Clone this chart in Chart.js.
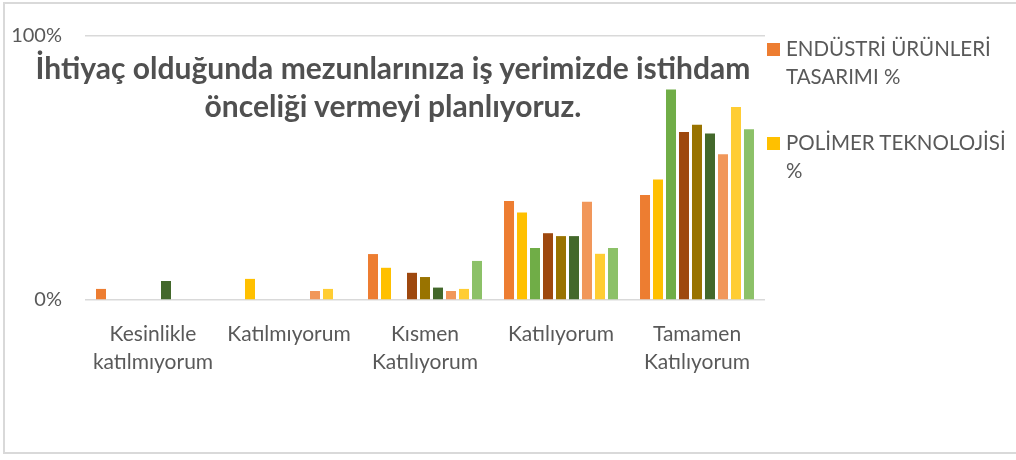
<!DOCTYPE html>
<html>
<head>
<meta charset="utf-8">
<script src="https://cdn.jsdelivr.net/npm/chart.js@4"></script>
<style>
  html, body { margin: 0; padding: 0; background: #fff; }
  #wrap { position: relative; width: 1016px; height: 460px; overflow: hidden; }
  #frame { position: absolute; left: 3px; top: 2px; width: 1030px; height: 452px; border: 2px solid #d9d9d9; box-sizing: border-box; }
  canvas { position: absolute; left: 0; top: 0; }
  #title { position: absolute; left: 0; width: 786px; top: 48px; text-align: center; font-family: Lato, sans-serif; font-weight: bold; font-size: 30px; line-height: 38px; color: #505050; }
  .leg { position: absolute; left: 767px; font-family: Lato, sans-serif; font-size: 20.5px; line-height: 28px; color: #595959; }
  .leg .box { position: absolute; left: 0; width: 13px; height: 13px; }
  .leg .txt { position: absolute; left: 19px; white-space: nowrap; }
</style>
</head>
<body>
<div id="wrap">
  <div id="frame"></div>
  <canvas id="c" width="1016" height="460"></canvas>
  <div id="title"></div>
  <div id="legend"></div>
</div>
<script>
const chartTitle = ["İhtiyaç olduğunda mezunlarınıza iş yerimizde istihdam", "önceliği vermeyi planlıyoruz."];
const categories = [["Kesinlikle", "katılmıyorum"], "Katılmıyorum", ["Kısmen", "Katılıyorum"], "Katılıyorum", ["Tamamen", "Katılıyorum"]];
const yTickLabels = { 0: "0%", 100: "100%" };

const seriesNames = ["ENDÜSTRİ ÜRÜNLERİ TASARIMI %", "POLİMER TEKNOLOJİSİ %", "Seri 3", "Seri 4", "Seri 5", "Seri 6", "Seri 7", "Seri 8", "Seri 9"];
const legendLines = [["ENDÜSTRİ ÜRÜNLERİ", "TASARIMI %"], ["POLİMER TEKNOLOJİSİ", "%"]];

const s1 = [4.2, 0, 17.4, 37.5, 39.8];
const s2 = [0, 8.0, 12.2, 33.1, 45.6];
const s3 = [0, 0, 0, 19.7, 79.7];
const s4 = [0, 0, 10.3, 25.3, 63.6];
const s5 = [0, 0, 8.7, 24.2, 66.4];
const s6 = [7.2, 0, 4.7, 24.2, 63.1];
const s7 = [0, 3.4, 3.4, 37.2, 55.2];
const s8 = [0, 4.2, 4.2, 17.5, 73.1];
const s9 = [0, 0, 14.8, 19.7, 64.7];

const seriesValues = [s1, s2, s3, s4, s5, s6, s7, s8, s9];
const seriesColors = ["#ED7D31", "#FFC000", "#70AD47", "#9E480E", "#997300", "#43682B", "#F1975A", "#FFCD33", "#8CC168"];

// title
document.getElementById("title").innerHTML = chartTitle.map(t => "<div>" + t + "</div>").join("");

// legend (only the first two series are visible in the original)
const legTops = [34, 128];
const legEl = document.getElementById("legend");
legendLines.forEach((lines, i) => {
  const d = document.createElement("div");
  d.className = "leg";
  d.style.top = legTops[i] + "px";
  d.innerHTML = '<div class="box" style="top:9px;background:' + seriesColors[i] + '"></div><div class="txt">' + lines.join("<br>") + "</div>";
  legEl.appendChild(d);
});

const FONT = "Lato, sans-serif";
new Chart(document.getElementById("c"), {
  type: "bar",
  data: {
    labels: categories,
    datasets: seriesValues.map((v, i) => ({
      label: seriesNames[i],
      data: v,
      backgroundColor: seriesColors[i],
      borderWidth: 0,
      categoryPercentage: 0.86,
      barPercentage: 0.77
    }))
  },
  options: {
    responsive: false,
    animation: false,
    devicePixelRatio: 1,
    layout: { padding: { left: 0, right: 251, top: 36, bottom: 0 } },
    plugins: { legend: { display: false }, tooltip: { enabled: false }, title: { display: false } },
    scales: {
      x: {
        grid: { display: false },
        border: { display: false },
        ticks: { color: "#595959", font: { family: FONT, size: 21, lineHeight: 1.333 }, padding: 12, maxRotation: 0, autoSkip: false },
        afterFit: s => { s.height = 160; }
      },
      y: {
        min: 0, max: 100,
        grid: { color: "#d9d9d9", lineWidth: 1.5, drawTicks: false },
        border: { display: false },
        ticks: { stepSize: 100, padding: 23, color: "#595959", font: { family: FONT, size: 20 }, callback: v => yTickLabels[v] },
        afterFit: s => { s.width = 85; }
      }
    }
  }
});
</script>
</body>
</html>
